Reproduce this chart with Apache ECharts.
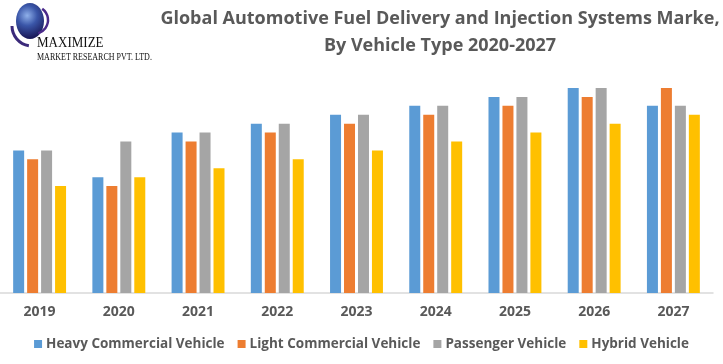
<!DOCTYPE html>
<html>
<head>
<meta charset="utf-8">
<script src="https://cdn.jsdelivr.net/npm/echarts@6/dist/echarts.min.js"></script>
<style>
html,body{margin:0;padding:0;background:#fff;}
#chart{width:723px;height:364px;}
</style>
</head>
<body>
<div id="chart"></div>
<script>
const years = ['2019','2020','2021','2022','2023','2024','2025','2026','2027'];
const heavyCommercial = [16, 13, 18, 19, 20, 21, 22, 23, 21];
const lightCommercial = [15, 12, 17, 18, 19, 20, 21, 22, 23];
const passenger       = [16, 17, 18, 19, 20, 21, 22, 23, 21];
const hybrid          = [12, 13, 14, 15, 16, 17, 18, 19, 20];
const seriesNames = ['Heavy Commercial Vehicle','Light Commercial Vehicle','Passenger Vehicle','Hybrid Vehicle'];
const colors = ['#5b9bd5','#ed7d31','#a5a5a5','#ffc000'];

const chart = echarts.init(document.getElementById('chart'));
const font = 'Open Sans, Lato, sans-serif';
const mk = (name, data, c) => ({
  name, type:'bar', data, barWidth:11, barGap:'27%',
  itemStyle:{color:c}
});
chart.setOption({
  animation:false,
  color: colors,
  grid:{left:-3, right:10, top:88, bottom:71},
  xAxis:{
    type:'category', data: years,
    axisLine:{lineStyle:{color:'#d9d9d9', width:1.5}},
    axisTick:{show:false},
    axisLabel:{color:'#595959', fontWeight:'bold', fontSize:14, fontFamily:font, margin:12}
  },
  yAxis:{type:'value', min:0, max:23, show:false, splitLine:{show:false}},
  legend:{
    bottom:8, left:'center', icon:'rect', itemWidth:8, itemHeight:8, itemGap:13,
    textStyle:{color:'#595959', fontWeight:'bold', fontSize:13.5, fontFamily:font, padding:[0,0,0,-1]},
    data: seriesNames
  },
  series:[
    mk(seriesNames[0], heavyCommercial, colors[0]),
    mk(seriesNames[1], lightCommercial, colors[1]),
    mk(seriesNames[2], passenger, colors[2]),
    mk(seriesNames[3], hybrid, colors[3])
  ],
  graphic:[
    {type:'text', x:440, y:5, style:{
      text:'Global Automotive Fuel Delivery and Injection Systems Marke,\nBy Vehicle Type 2020-2027',
      fill:'#595959', font:'bold 18px '+font, align:'center', lineHeight:27
    }},
    {type:'arc', shape:{cx:32, cy:26, r:20, startAngle:Math.PI*0.55, endAngle:Math.PI*1.0}, style:{stroke:'#3b2a7a', lineWidth:3, fill:null}},
    {type:'ellipse', shape:{cx:30, cy:21, rx:14, ry:18}, style:{fill:new echarts.graphic.RadialGradient(0.4,0.35,0.8,[{offset:0,color:'#8fb0ea'},{offset:0.45,color:'#3a56a8'},{offset:1,color:'#1a1a5a'}])}},
    {type:'arc', shape:{cx:34, cy:20, r:14, startAngle:-Math.PI*0.3, endAngle:Math.PI*0.4}, style:{stroke:'#4a2a8a', lineWidth:2.5, fill:null}},
    {type:'text', x:37, y:36, scaleX:0.93, style:{text:'MAXIMIZE', fill:'#111', font:'14px "Liberation Serif", serif'}},
    {type:'text', x:37, y:52, scaleX:0.8, style:{text:'MARKET RESEARCH PVT. LTD.', fill:'#111', font:'10px "Liberation Serif", serif'}}
  ]
});
</script>
</body>
</html>
